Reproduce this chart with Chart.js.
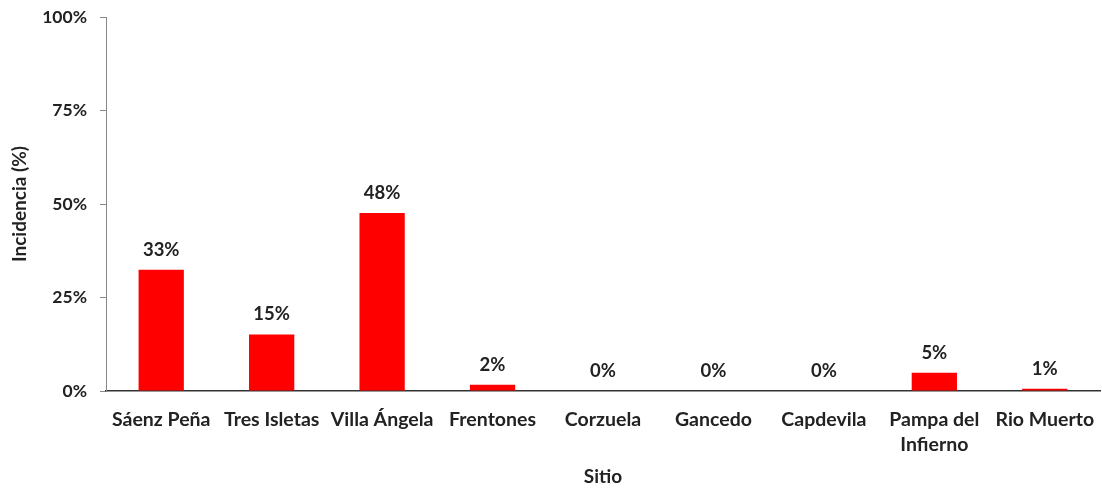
<!DOCTYPE html>
<html><head><meta charset="utf-8">
<script src="https://cdn.jsdelivr.net/npm/chart.js@4"></script>
<style>html,body{margin:0;padding:0;background:#fff}#w{width:1102px;height:488px}</style>
</head><body><div id="w"><canvas id="c"></canvas></div>
<script>
const categories = ["Sáenz Peña", "Tres Isletas", "Villa Ángela", "Frentones", "Corzuela", "Gancedo", "Capdevila", ["Pampa del", "Infierno"], "Rio Muerto"];
const incidence = [32.4, 15.1, 47.6, 1.7, 0, 0, 0, 4.9, 0.6];
const valueLabels = ["33%", "15%", "48%", "2%", "0%", "0%", "0%", "5%", "1%"];
const yTicks = [0, 25, 50, 75, 100];

const FONT = "Lato, 'Open Sans', sans-serif";
const labelPlugin = {
  id: 'vlabels',
  afterDatasetsDraw(chart) {
    const ctx = chart.ctx;
    const meta = chart.getDatasetMeta(0);
    ctx.save();
    ctx.font = "bold 18.5px " + FONT;
    ctx.fillStyle = '#222';
    ctx.textAlign = 'center';
    ctx.textBaseline = 'middle';
    meta.data.forEach((bar, i) => {
      ctx.fillText(valueLabels[i], bar.x, bar.y - 20);
    });
    ctx.restore();
  }
};

new Chart(document.getElementById('c'), {
  type: 'bar',
  data: {
    labels: categories,
    datasets: [{ data: incidence, backgroundColor: '#ff0000', borderWidth: 0, categoryPercentage: 1, barPercentage: 0.41 }]
  },
  options: {
    responsive: true, maintainAspectRatio: false, animation: false,
    layout: { padding: { top: 17, right: 2, left: 0, bottom: 0 } },
    plugins: { legend: { display: false }, tooltip: { enabled: false } },
    scales: {
      x: {
        grid: { display: false, drawTicks: false },
        border: { display: true, color: '#333', width: 1.6 },
        ticks: { color: '#222', font: { family: FONT, size: 19.5, weight: 'bold', lineHeight: 1.3 }, padding: 16, maxRotation: 0, autoSkip: false },
        title: { display: true, text: 'Sitio', color: '#222', font: { family: FONT, size: 19, weight: 'bold' }, padding: { top: 0, bottom: 0 } },
        afterFit(s) { s.height = 97; s.paddingLeft = 0; s.paddingRight = 0; }
      },
      y: {
        min: 0, max: 100,
        afterBuildTicks(s) { s.ticks = yTicks.map(v => ({ value: v })); },
        grid: { display: true, drawOnChartArea: false, drawTicks: true, tickLength: 6, color: '#888' },
        border: { display: true, color: '#888', width: 1 },
        ticks: { color: '#222', font: { family: FONT, size: 17.5, weight: 'bold' }, padding: 13, callback: v => v + '%' },
        title: { display: true, text: 'Incidencia (%)', color: '#222', font: { family: FONT, size: 19, weight: 'bold' }, padding: { top: 8, bottom: 0 } },
        afterFit(s) { s.width = 106; s.paddingTop = 0; s.paddingBottom = 0; }
      }
    }
  },
  plugins: [labelPlugin]
});
</script></body></html>
